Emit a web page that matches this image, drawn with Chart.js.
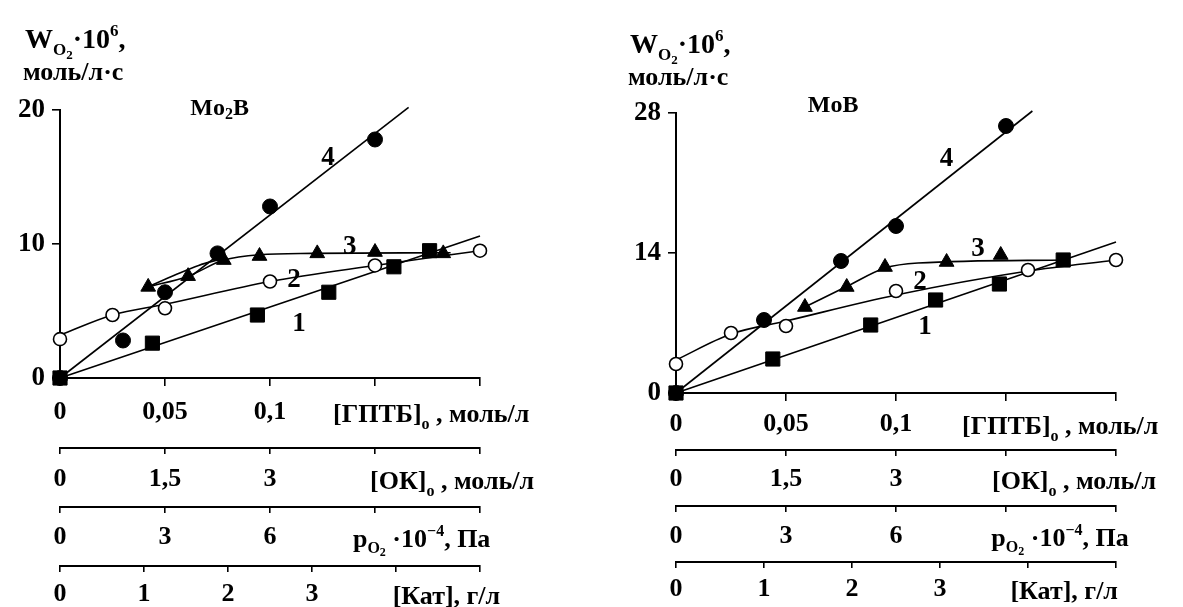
<!DOCTYPE html>
<html>
<head>
<meta charset="utf-8">
<script src="https://cdn.jsdelivr.net/npm/chart.js@4.4.0/dist/chart.umd.min.js"></script>
<style>
    html, body { margin: 0; padding: 0; background: #fff; }
    #wrap { position: relative; width: 1183px; height: 607px; overflow: hidden; }
    canvas { position: absolute; top: 0; }
    #left { left: 0; }
    #right { left: 592px; }
</style>
</head>
<body>
<div id="wrap">
    <canvas id="left" width="591" height="607"></canvas>
    <canvas id="right" width="591" height="607"></canvas>
</div>
<script>
// stacked horizontal scales (same for both panels)
const gptbTicks = [0, 0.05, 0.1, 0.15, 0.2];
const gptbLabels = ['0', '0,05', '0,1', '', ''];
const okTicks = [0, 1.5, 3, 4.5, 6];
const okLabels = ['0', '1,5', '3', '', ''];
const po2Ticks = [0, 3, 6, 9, 12];
const po2Labels = ['0', '3', '6', '', ''];
const katTicks = [0, 1, 2, 3, 4, 5];
const katLabels = ['0', '1', '2', '3', '', ''];

// Mo2B panel (x in [ГПТБ] units of the top scale)
const mo2bYTicks = [0, 10, 20];
const mo2bSqX = [0, 0.044, 0.094, 0.128, 0.159, 0.176];
const mo2bSqY = [0, 2.6, 4.7, 6.4, 8.3, 9.5];
const mo2bFit1X = [0, 0.2];
const mo2bFit1Y = [0, 10.6];
const mo2bOpenX = [0, 0.025, 0.05, 0.1, 0.15, 0.2];
const mo2bOpenY = [2.9, 4.7, 5.2, 7.2, 8.4, 9.5];
const mo2bFit2X = [0, 0.025, 0.05, 0.1, 0.15, 0.2];
const mo2bFit2Y = [3.2, 4.7, 5.5, 7.2, 8.4, 9.5];
const mo2bTriX = [0.042, 0.061, 0.078, 0.095, 0.1225, 0.15, 0.1825];
const mo2bTriY = [6.8, 7.6, 8.8, 9.1, 9.3, 9.4, 9.3];
const mo2bFit3X = [0.042, 0.061, 0.078, 0.095, 0.12, 0.186];
const mo2bFit3Y = [6.8, 7.6, 8.8, 9.2, 9.3, 9.35];
const mo2bArc3X = [0.042, 0.055, 0.066, 0.077];
const mo2bArc3Y = [6.8, 7.7, 8.4, 8.9];
const mo2bDotX = [0, 0.03, 0.05, 0.075, 0.1, 0.15];
const mo2bDotY = [0, 2.8, 6.4, 9.3, 12.8, 17.8];
const mo2bFit4X = [0, 0.166];
const mo2bFit4Y = [0, 20.2];

// MoB panel
const mobYTicks = [0, 14, 28];
const mobSqX = [0, 0.044, 0.0885, 0.118, 0.147, 0.176];
const mobSqY = [0, 3.4, 6.8, 9.3, 10.9, 13.3];
const mobFit1X = [0, 0.2];
const mobFit1Y = [0, 15.1];
const mobOpenX = [0, 0.025, 0.05, 0.1, 0.16, 0.2];
const mobOpenY = [2.9, 6.0, 6.7, 10.2, 12.3, 13.3];
const mobFit2X = [0, 0.025, 0.05, 0.1, 0.16, 0.2];
const mobFit2Y = [3.3, 5.9, 7.2, 9.8, 12.2, 13.3];
const mobTriX = [0.0586, 0.0776, 0.095, 0.123, 0.1476];
const mobTriY = [8.6, 10.6, 12.6, 13.1, 13.8];
const mobFit3X = [0.0586, 0.078, 0.095, 0.11, 0.178];
const mobFit3Y = [8.6, 10.7, 12.5, 13.0, 13.3];
const mobDotX = [0, 0.04, 0.075, 0.1, 0.15];
const mobDotY = [0, 7.3, 13.2, 16.7, 26.7];
const mobFit4X = [0, 0.162];
const mobFit4Y = [0, 28.2];

const FONT = '"Liberation Serif", "Times New Roman", serif';
const FS = 26;
Chart.defaults.font.family = FONT;
Chart.defaults.font.weight = 'bold';
Chart.defaults.font.size = FS;
Chart.defaults.color = '#000';

const pts = (xs, ys) => xs.map((x, i) => ({ x, y: ys[i] }));

function markers(xs, ys, style, radius, open) {
    return {
        data: pts(xs, ys), showLine: false, order: 1, clip: false,
        pointStyle: style, pointRadius: radius, pointHoverRadius: radius,
        backgroundColor: open ? '#fff' : '#000', borderColor: '#000',
        pointBorderWidth: open ? 1.6 : 1
    };
}

function fitLine(xs, ys, smooth) {
    return {
        data: pts(xs, ys), showLine: true, order: 10, clip: false,
        pointRadius: 0, borderColor: '#000', borderWidth: 1.6,
        cubicInterpolationMode: smooth ? 'monotone' : 'default', tension: 0
    };
}

function hAxis(ticks, labels, weight, height, tickLen, pad) {
    return {
        type: 'linear', position: 'bottom', weight,
        min: ticks[0], max: ticks[ticks.length - 1],
        afterBuildTicks: s => { s.ticks = ticks.map(v => ({ value: v })); },
        afterFit: s => { s.height = height; },
        ticks: { autoSkip: false, maxRotation: 0, padding: pad, callback: (v, i) => labels[i] },
        grid: { drawOnChartArea: false, tickLength: tickLen, color: '#000', lineWidth: 1.6 },
        border: { color: '#000', width: 2 }
    };
}

function drawRich(ctx, x, y, parts, align) {
    let w = 0;
    parts.forEach(p => { ctx.font = `bold ${p[1]}px ${FONT}`; w += ctx.measureText(p[0]).width; });
    let cx = align === 'center' ? x - w / 2 : x;
    ctx.textAlign = 'left';
    ctx.textBaseline = 'alphabetic';
    ctx.fillStyle = '#000';
    parts.forEach(p => {
        ctx.font = `bold ${p[1]}px ${FONT}`;
        ctx.fillText(p[0], cx, y + (p[2] || 0));
        cx += ctx.measureText(p[0]).width;
    });
}

const textPlugin = {
    id: 'texts',
    afterDraw(chart) {
        const ctx = chart.ctx;
        const t = chart.options.plugins.texts;
        const xs = chart.scales.x, ys = chart.scales.y;
        ctx.save();
        // y axis title
        drawRich(ctx, t.yTitle[0], t.yTitle[1], [['W', 28], ['O', 17, 7], ['2', 13, 11], ['·10', 28], ['6', 17, -12], [',', 28]]);
        drawRich(ctx, t.yTitle[0] - 2, t.yTitle[1] + 32, [['моль/л·с', 26]]);
        // sample name
        drawRich(ctx, xs.getPixelForValue(t.name[0]), t.name[1], t.name[2], 'center');
        // curve numbers
        t.curveNums.forEach(c => {
            drawRich(ctx, xs.getPixelForValue(c[1]), ys.getPixelForValue(c[2]) + 9, [[c[0], 27]], 'center');
        });
        // axis titles, on the tick label row
        t.axisTitles.forEach(a => {
            const s = chart.scales[a[0]];
            const tl = s.options.grid.tickLength, pad = s.options.ticks.padding;
            const base = s.top + tl + pad + FS * 0.6 + 9;
            drawRich(ctx, s.getPixelForValue(a[1]), base, a[2]);
        });
        ctx.restore();
    }
};

const gptbTitle = [['[ГПТБ]', FS], ['o', 16, 7], [' , моль/л', FS]];
const okTitle = [['[ОК]', FS], ['o', 16, 7], [' , моль/л', FS]];
const po2Title = [['p', FS], ['O', 16, 6], ['2', 12, 9], [' ·10', FS], ['−4', 16, -11], [', Па', FS]];
const katTitle = [['[Кат], г/л', FS]];

function makePanel(id, p) {
    return new Chart(document.getElementById(id), {
        type: 'scatter',
        data: {
            datasets: [
                fitLine(p.fit1[0], p.fit1[1], false),
                fitLine(p.fit2[0], p.fit2[1], true),
                fitLine(p.fit3[0], p.fit3[1], true),
                ...(p.arc3 ? [fitLine(p.arc3[0], p.arc3[1], true)] : []),
                fitLine(p.fit4[0], p.fit4[1], false),
                markers(p.sq[0], p.sq[1], 'rect', 10, false),
                markers(p.open[0], p.open[1], 'circle', 6.5, true),
                markers(p.tri[0], p.tri[1], 'triangle', 8.5, false),
                markers(p.dot[0], p.dot[1], 'circle', 7.5, false)
            ]
        },
        options: {
            responsive: false,
            animation: false,
            events: [],
            layout: { padding: { top: p.top, right: p.right, bottom: 0, left: 0 } },
            scales: {
                x: hAxis(gptbTicks, gptbLabels, 0, p.h[0], 8, p.pad[0]),
                ok: hAxis(okTicks, okLabels, 1, p.h[1], 6, p.pad[1]),
                po2: hAxis(po2Ticks, po2Labels, 2, p.h[2], 6, p.pad[2]),
                kat: hAxis(katTicks, katLabels, 3, p.h[3], 6, p.pad[3]),
                y: {
                    type: 'linear', position: 'left',
                    min: p.yTicks[0], max: p.yTicks[p.yTicks.length - 1],
                    afterBuildTicks: s => { s.ticks = p.yTicks.map(v => ({ value: v })); },
                    afterFit: s => { s.width = p.yWidth; },
                    ticks: { padding: 7, font: { size: 27 } },
                    grid: { drawOnChartArea: false, tickLength: 8, color: '#000', lineWidth: 1.6 },
                    border: { color: '#000', width: 2 }
                }
            },
            plugins: {
                legend: { display: false },
                tooltip: { enabled: false },
                texts: {
                    yTitle: p.yTitle,
                    name: p.name,
                    curveNums: p.curveNums,
                    axisTitles: [['x', 0.13, gptbTitle], ['ok', p.titleAt[0], okTitle],
                                 ['po2', p.titleAt[1], po2Title], ['kat', p.titleAt[2], katTitle]]
                }
            }
        },
        plugins: [textPlugin]
    });
}

makePanel('left', {
    top: 110, right: 111, yWidth: 60,
    h: [70, 59, 59, 41], pad: [11, 10, 9, 7],
    yTicks: mo2bYTicks,
    sq: [mo2bSqX, mo2bSqY], fit1: [mo2bFit1X, mo2bFit1Y],
    open: [mo2bOpenX, mo2bOpenY], fit2: [mo2bFit2X, mo2bFit2Y],
    tri: [mo2bTriX, mo2bTriY], fit3: [mo2bFit3X, mo2bFit3Y], arc3: [mo2bArc3X, mo2bArc3Y],
    dot: [mo2bDotX, mo2bDotY], fit4: [mo2bFit4X, mo2bFit4Y],
    yTitle: [25, 48],
    name: [0.076, 115, [['Mo', 24], ['2', 16, 4], ['B', 24]]],
    curveNums: [['4', 0.1276, 16.6], ['3', 0.138, 9.9], ['2', 0.1114, 7.5], ['1', 0.1138, 4.2]],
    titleAt: [4.43, 8.37, 3.96]
});

makePanel('right', {
    top: 113, right: 67, yWidth: 84,
    h: [57, 56, 56, 45], pad: [8, 8, 9, 6],
    yTicks: mobYTicks,
    sq: [mobSqX, mobSqY], fit1: [mobFit1X, mobFit1Y],
    open: [mobOpenX, mobOpenY], fit2: [mobFit2X, mobFit2Y],
    tri: [mobTriX, mobTriY], fit3: [mobFit3X, mobFit3Y],
    dot: [mobDotX, mobDotY], fit4: [mobFit4X, mobFit4Y],
    yTitle: [38, 53],
    name: [0.0714, 112, [['MoB', 24]]],
    curveNums: [['4', 0.123, 23.6], ['3', 0.1373, 14.6], ['2', 0.1109, 11.3], ['1', 0.1132, 6.8]],
    titleAt: [4.31, 8.6, 3.8]
});
</script>
</body>
</html>
